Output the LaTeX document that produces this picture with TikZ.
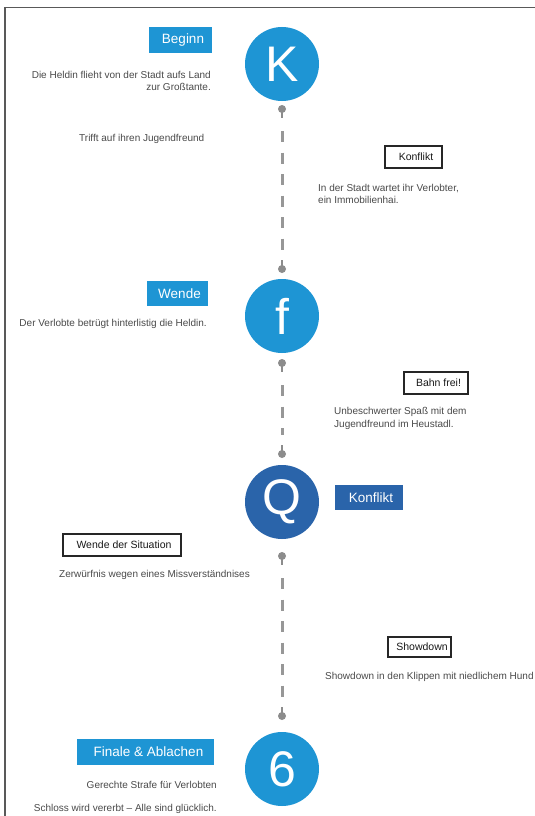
\documentclass[tikz,border=0pt]{standalone}
\usepackage{fontspec}
\setmainfont{Liberation Sans}
\definecolor{lblue}{HTML}{1E95D4}
\definecolor{dblue}{HTML}{2A64AA}
\definecolor{txtgray}{HTML}{4A4A4A}
\definecolor{pingray}{HTML}{8C8C8C}
\begin{document}
\begin{tikzpicture}[x=1pt,y=-1pt,
  bigcirc/.style={circle,fill=#1,minimum size=74pt,inner sep=0pt,text=white,font=\fontsize{50}{50}\selectfont},
  fillbox/.style={fill=#1,text=white,inner sep=0pt,font=\fontsize{13.5}{14}\selectfont},
  linebox/.style={draw=black!85,line width=1.6pt,fill=white,text=black!90,inner sep=0pt,font=\fontsize{10.5}{11}\selectfont},
  body/.style={text=txtgray,inner sep=0pt,font=\fontsize{10}{12}\selectfont},
  pindot/.style={circle,fill=pingray,minimum size=8pt,inner sep=0pt},
  stem/.style={draw=pingray,line width=2.6pt},
  dashline/.style={draw=pingray!90,line width=3pt,dash pattern=on 11pt off 10.5pt,shorten <=13pt,shorten >=10pt}
]
\useasboundingbox (0,0) rectangle (535,816);
\fill[white] (0,0) rectangle (535,816);
% frame
\draw[black!65,line width=1.3pt] (5,816) -- (5,7.5) -- (535,7.5);

% circles
\node[bigcirc=lblue] (cK) at (282,64) {K};
\node[bigcirc=lblue] (cf) at (282,316) {f};
\node[bigcirc=dblue] (cQ) at (282,502) {Q};
\node[bigcirc=lblue] (c6) at (282,769) {6};

% pins
\node[pindot] (d1) at (282,109) {};
\coordinate (s1) at (282,118);
\node[pindot] (d2) at (282,269) {};
\coordinate (s2) at (282,260);
\node[pindot] (d3) at (282,363) {};
\coordinate (s3) at (282,372);
\node[pindot] (d4) at (282,454) {};
\coordinate (s4) at (282,445);
\node[pindot] (d5) at (282,556) {};
\coordinate (s5) at (282,565);
\node[pindot] (d6) at (282,716) {};
\coordinate (s6) at (282,707);

\draw[stem] (d1.center) -- (s1);
\draw[stem] (d2.center) -- (s2);
\draw[stem] (d3.center) -- (s3);
\draw[stem] (d4.center) -- (s4);
\draw[stem] (d5.center) -- (s5);
\draw[stem] (d6.center) -- (s6);

\draw[dashline] (s1) -- (s2);
\draw[dashline] (s3) -- (s4);
\draw[dashline] (s5) -- (s6);

% labels
\node[fillbox=lblue,minimum width=63pt,minimum height=26pt] (lBeginn) at (180.5,40) {\hspace*{5pt}Beginn};
\node[body,anchor=base east] (t1a) at (211,78) {Die Heldin flieht von der Stadt aufs Land};
\node[body,anchor=base east] (t1b) at (211,90) {zur Großtante.};
\node[body,anchor=base west] (t2) at (79,141) {Trifft auf ihren Jugendfreund};

\node[linebox,minimum width=57pt,minimum height=22pt] (lKonflikt1) at (413.5,157) {\hspace*{5pt}Konflikt};
\node[body,anchor=base west] (t3a) at (318,191) {In der Stadt wartet ihr Verlobter,};
\node[body,anchor=base west] (t3b) at (318,203) {ein Immobilienhai.};

\node[fillbox=lblue,minimum width=61pt,minimum height=25pt] (lWende) at (177.5,293.5) {\hspace*{4pt}Wende};
\node[body,anchor=base east] (t4) at (207,326) {Der Verlobte betrügt hinterlistig die Heldin.};

\node[linebox,minimum width=64pt,minimum height=22pt] (lBahn) at (436,383) {\hspace*{5pt}Bahn frei!};
\node[body,anchor=base west] (t5a) at (334,414) {Unbeschwerter Spaß mit dem};
\node[body,anchor=base west] (t5b) at (334,427) {Jugendfreund im Heustadl.};

\node[fillbox=dblue,minimum width=68pt,minimum height=25pt] (lKonflikt2) at (369,497.5) {\hspace*{4pt}Konflikt};

\node[linebox,minimum width=118pt,minimum height=22pt] (lWendeSit) at (122,545) {\hspace*{4pt}Wende der Situation};
\node[body,anchor=base west] (t6) at (59,577) {Zerwürfnis wegen eines Missverständnises};

\node[linebox,minimum width=63pt,minimum height=20pt] (lShow) at (419.5,647) {\hspace*{5pt}Showdown};
\node[body,anchor=base west] (t7) at (325,679) {Showdown in den Klippen mit niedlichem Hund};

\node[fillbox=lblue,minimum width=137pt,minimum height=26pt] (lFinale) at (145.5,752) {\hspace*{6pt}Finale \& Ablachen};
\node[body,anchor=base east] (t8a) at (217,788) {Gerechte Strafe für Verlobten};
\node[body,anchor=base east] (t8b) at (217,811) {Schloss wird vererbt – Alle sind glücklich.};
\end{tikzpicture}
\end{document}
